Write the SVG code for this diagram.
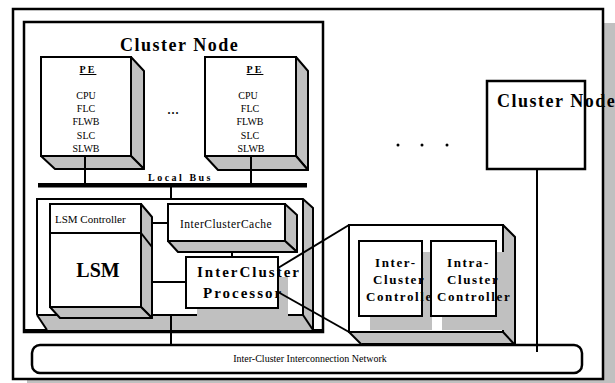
<svg xmlns="http://www.w3.org/2000/svg" width="615" height="383" viewBox="0 0 615 383">
<style>
.ln{fill:none;stroke:#000;stroke-width:2}
.face{fill:#fff;stroke:#000;stroke-width:2}
.gr{fill:#c0c0c0;stroke:none}
.grs{fill:#c0c0c0;stroke:#000;stroke-width:2;stroke-linejoin:round}
.t{font-family:"Liberation Serif","Times New Roman",serif;fill:#000}
.r{font-size:10px;text-anchor:middle}
.b{font-weight:bold}
.pe{font-size:10px;font-weight:bold;letter-spacing:2px;text-decoration:underline;text-anchor:middle}
.ctl{font-size:13px;font-weight:bold;letter-spacing:1.6px}
</style>
<rect x="0" y="0" width="615" height="383" fill="#fff"/>
<g id="frame">
<rect x="27" y="23" width="588" height="360" fill="#c0c0c0"/>
<rect x="13" y="9" width="590" height="370" fill="#fff" stroke="#000" stroke-width="2.5"/>
</g>
<g id="cluster-node">
<rect x="24" y="22" width="299" height="310" fill="#fff" stroke="#000" stroke-width="2.5"/>
<line x1="24" y1="331" x2="323" y2="331" stroke="#000" stroke-width="4"/>
<text x="120" y="51" class="t b" font-size="18" letter-spacing="1.5">Cluster Node</text>
</g>
<g id="pe1">
<polygon class="grs" points="131,57 144,71 144,169 131,156"/>
<polygon class="grs" points="41,156 131,156 144,169 55,169"/>
<rect class="face" x="41" y="57" width="90" height="99"/>
<text class="t pe" x="88" y="73">PE</text>
<text class="t r" x="86" y="99">CPU</text>
<text class="t r" x="86" y="112">FLC</text>
<text class="t r" x="86" y="125">FLWB</text>
<text class="t r" x="86" y="139">SLC</text>
<text class="t r" x="86" y="152">SLWB</text>
</g>
<g id="pe-dots">
<text class="t" x="173" y="114" font-size="16" text-anchor="middle">...</text>
</g>
<g id="pe2">
<polygon class="grs" points="296,57 308,71 308,170 296,156"/>
<polygon class="grs" points="205,156 296,156 308,170 218,170"/>
<rect class="face" x="205" y="57" width="91" height="99"/>
<text class="t pe" x="255" y="73">PE</text>
<text class="t r" x="248" y="99">CPU</text>
<text class="t r" x="250" y="112">FLC</text>
<text class="t r" x="250" y="125">FLWB</text>
<text class="t r" x="250" y="139">SLC</text>
<text class="t r" x="251" y="152">SLWB</text>
</g>
<g id="local-bus">
<rect x="38" y="183" width="269" height="4.5" fill="#000"/>
<text class="t b" x="148" y="181" font-size="10" letter-spacing="2.5">Local Bus</text>
</g>
<g id="lsm-module">
<polygon class="gr" points="303,199 313,208 313,330 303,315"/>
<polygon class="gr" points="37,315 303,315 313,330 47,330"/>
<polyline class="ln" points="37,315 37,199 303,199 313,208 313,330"/>
<line class="ln" x1="303" y1="199" x2="303" y2="315"/>
<line class="ln" x1="303" y1="315" x2="313" y2="330"/>
<line class="ln" x1="37" y1="315" x2="47" y2="330"/>
<line class="ln" x1="37" y1="315" x2="197" y2="315"/>
<line class="ln" x1="288" y1="315" x2="303" y2="315"/>
</g>
<g id="lsm">
<polygon class="grs" points="141,204 152,217 152,318 141,307"/>
<polygon class="grs" points="50,307 141,307 152,318 60,318"/>
<line class="ln" x1="141" y1="233" x2="152" y2="247"/>
<rect class="face" x="50" y="204" width="91" height="103"/>
<line class="ln" x1="50" y1="233" x2="141" y2="233"/>
<text class="t" x="55" y="223" font-size="11">LSM Controller</text>
<text class="t b" x="98" y="277" font-size="20" text-anchor="middle">LSM</text>
</g>
<g id="cache">
<polygon class="grs" points="285,204 297,215 297,252 285,241"/>
<polygon class="grs" points="168,241 285,241 297,252 178,252"/>
<rect class="face" x="168" y="204" width="117" height="37"/>
<text class="t" x="180" y="228" font-size="11.5" letter-spacing="0.5">InterClusterCache</text>
</g>
<g id="processor">
<rect class="gr" x="197" y="277" width="91" height="50"/>
<rect class="face" x="186" y="257" width="92" height="51"/>
<text class="t b" x="197" y="277" font-size="15" letter-spacing="2">InterCluster</text>
<text class="t b" x="203" y="298" font-size="15" letter-spacing="2">Processor</text>
</g>
<g id="cluster-node-2">
<rect x="487" y="81" width="98" height="88" fill="#fff" stroke="#000" stroke-width="2.5"/>
<text x="497" y="107" class="t b" font-size="18" letter-spacing="1.5">Cluster Node</text>
</g>
<g id="dots">
<circle cx="398" cy="145" r="1.5" fill="#000"/>
<circle cx="422" cy="145" r="1.5" fill="#000"/>
<circle cx="447" cy="145" r="1.5" fill="#000"/>
</g>
<g id="controller-detail">
<polygon class="gr" points="503,225 515,237 515,345 503,332"/>
<polygon class="gr" points="349,332 503,332 515,345 362,345"/>
<rect x="349" y="225" width="154" height="107" fill="#fff" stroke="#000" stroke-width="2"/>
<polyline class="ln" points="503,225 515,237 515,345"/>
<line class="ln" x1="349" y1="332" x2="362" y2="345"/>
<line class="ln" x1="362" y1="344" x2="515" y2="344"/>
<line class="ln" x1="503" y1="332" x2="515" y2="345"/>
<rect class="gr" x="370" y="252" width="62" height="78"/>
<rect class="gr" x="442" y="252" width="62" height="78"/>
</g>
<g id="inter-controller">
<rect class="face" x="359" y="241" width="63" height="75"/>
<text class="t ctl" x="375" y="267">Inter-</text>
<text class="t ctl" x="373" y="284">Cluster</text>
<text class="t ctl" x="366" y="301">Controller</text>
</g>
<g id="intra-controller">
<rect class="face" x="431" y="241" width="65" height="75"/>
<text class="t ctl" x="447" y="267">Intra-</text>
<text class="t ctl" x="447" y="284">Cluster</text>
<text class="t ctl" x="437" y="301">Controller</text>
</g>
<g id="network">
<rect x="32" y="345" width="550" height="28" rx="8" ry="8" fill="#fff" stroke="#000" stroke-width="2.5"/>
<text class="t" x="310" y="362" font-size="10" fill="#222" text-anchor="middle">Inter-Cluster Interconnection Network</text>
</g>
<g id="connectors">
<line class="ln" x1="85" y1="156" x2="85" y2="183"/>
<line class="ln" x1="251" y1="156" x2="251" y2="183"/>
<line class="ln" x1="171" y1="187" x2="171" y2="199"/>
<line class="ln" x1="152" y1="223" x2="168" y2="223"/>
<line class="ln" x1="152" y1="282" x2="186" y2="282"/>
<line class="ln" x1="232" y1="252" x2="232" y2="257"/>
<line class="ln" x1="171" y1="315" x2="171" y2="345"/>
<line class="ln" x1="537" y1="169" x2="537" y2="352"/>
<line class="ln" x1="278" y1="268" x2="349" y2="225"/>
<line class="ln" x1="278" y1="292" x2="349" y2="332"/>
</g>
</svg>
